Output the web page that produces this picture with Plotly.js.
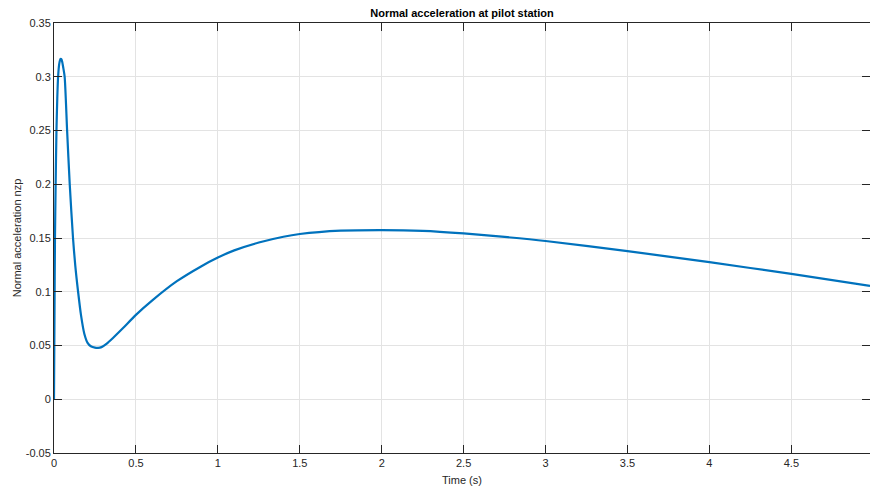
<!DOCTYPE html>
<html>
<head>
<meta charset="utf-8">
<script src="https://cdn.plot.ly/plotly-3.0.1.min.js"></script>
<style>html,body{margin:0;padding:0;background:#fff;}#chart{width:870px;height:490px;}</style>
</head>
<body>
<div id="chart"></div>
<script>
var timeS = [0, 0.003, 0.006, 0.01, 0.015, 0.02, 0.025, 0.032, 0.04, 0.045, 0.05, 0.057, 0.065, 0.08, 0.096, 0.116, 0.13, 0.147, 0.165, 0.185, 0.205, 0.225, 0.25, 0.269, 0.29, 0.32, 0.36, 0.42, 0.5, 0.6, 0.75, 0.9, 1.0, 1.1, 1.25, 1.4, 1.5, 1.75, 2.0, 2.25, 2.5, 2.75, 3.0, 3.5, 4.0, 4.5, 4.98];
var nzp = [0, 0.08, 0.15, 0.2, 0.25, 0.28, 0.3, 0.312, 0.3165, 0.3164, 0.314, 0.308, 0.3, 0.25, 0.2, 0.15, 0.124, 0.1, 0.078, 0.061, 0.0525, 0.0493, 0.048, 0.0478, 0.0485, 0.0515, 0.057, 0.066, 0.0785, 0.092, 0.1098, 0.1238, 0.1318, 0.1385, 0.1458, 0.1512, 0.1537, 0.1568, 0.1574, 0.1567, 0.1543, 0.151, 0.1472, 0.1378, 0.1275, 0.1166, 0.1054];
var xTicks = [0, 0.5, 1, 1.5, 2, 2.5, 3, 3.5, 4, 4.5];
var xTickText = ['0', '0.5', '1', '1.5', '2', '2.5', '3', '3.5', '4', '4.5'];
var yTicks = [-0.05, 0, 0.05, 0.1, 0.15, 0.2, 0.25, 0.3, 0.35];
var yTickText = ['-0.05', '0', '0.05', '0.1', '0.15', '0.2', '0.25', '0.3', '0.35'];

var font = 'Liberation Sans, Arial, Helvetica, sans-serif';
var axisCol = '#262626';
var gridCol = '#e3e3e3';

Plotly.newPlot('chart', [{
  x: timeS, y: nzp, type: 'scatter', mode: 'lines',
  line: {color: '#0072BD', width: 2.2, shape: 'spline', smoothing: 0.7}, hoverinfo: 'skip'
}], {
  width: 870, height: 490,
  margin: {l: 54, r: 0, t: 23, b: 37},
  paper_bgcolor: '#ffffff', plot_bgcolor: '#ffffff',
  showlegend: false,
  font: {family: font, size: 11, color: axisCol},
  title: {text: '<b>Normal acceleration at pilot station</b>', font: {family: font, size: 11, color: '#000'},
          x: 0.531, xanchor: 'center', xref: 'container', y: 0.973, yanchor: 'middle', yref: 'container'},
  xaxis: {
    range: [0, 4.98], tickvals: xTicks, ticktext: xTickText,
    showgrid: true, gridcolor: gridCol, gridwidth: 1,
    zeroline: false, showline: true, linecolor: axisCol, linewidth: 1,
    mirror: 'ticks', ticks: 'inside', ticklen: 8, tickcolor: axisCol, tickwidth: 1,
    tickfont: {family: font, size: 11, color: axisCol},
    title: {text: 'Time (s)', font: {family: font, size: 11, color: axisCol}, standoff: 8},
    automargin: false
  },
  yaxis: {
    range: [-0.05, 0.35], tickvals: yTicks, ticktext: yTickText,
    showgrid: true, gridcolor: gridCol, gridwidth: 1,
    zeroline: false, showline: true, linecolor: axisCol, linewidth: 1,
    mirror: 'ticks', ticks: 'inside', ticklen: 8, tickcolor: axisCol, tickwidth: 1,
    tickfont: {family: font, size: 11, color: axisCol},
    title: {text: 'Normal acceleration nzp', font: {family: font, size: 11, color: axisCol}, standoff: 1},
    automargin: false
  }
}, {staticPlot: true, displayModeBar: false});
</script>
</body>
</html>
